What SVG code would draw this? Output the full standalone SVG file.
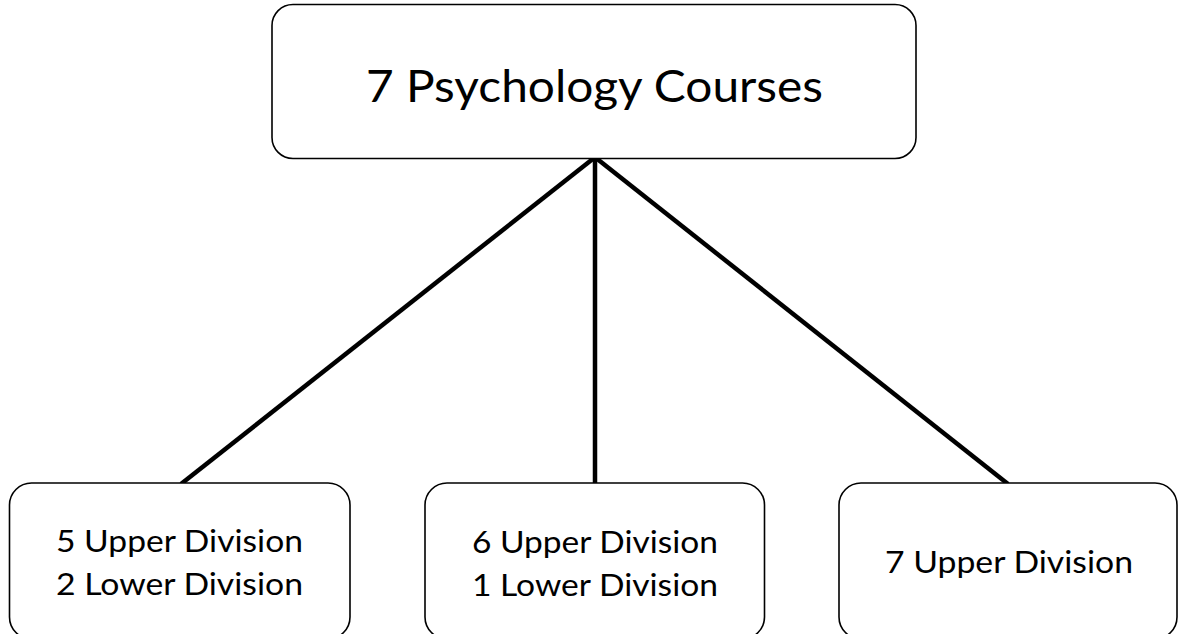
<svg xmlns="http://www.w3.org/2000/svg" width="1178" height="634" viewBox="0 0 1178 634">
<style>
.box{fill:#fff;stroke:#000;stroke-width:1.6}
.lbl{font-family:Lato,"Liberation Sans",sans-serif;fill:#000;text-anchor:middle}
.big{font-size:44.6px}
.sm{font-size:30.7px}
.conn{stroke:#000;stroke-width:4.5;fill:none;stroke-linecap:butt}
</style>
<rect width="1178" height="634" fill="#fff"/>
<g id="connectors">
<line class="conn" x1="594" y1="158" x2="181" y2="484"/>
<line class="conn" x1="595" y1="158" x2="595" y2="484"/>
<line class="conn" x1="596" y1="158" x2="1008" y2="484"/>
</g>
<g id="root">
<rect class="box" x="272" y="4.5" width="644" height="154" rx="21" ry="21"/>
<text class="lbl big" x="594.5" y="102" textLength="457" lengthAdjust="spacingAndGlyphs">7 Psychology Courses</text>
</g>
<g id="left">
<rect class="box" x="9.5" y="483" width="340.5" height="156" rx="22" ry="22"/>
<text class="lbl sm" x="179.5" y="552" textLength="247" lengthAdjust="spacingAndGlyphs">5 Upper Division</text>
<text class="lbl sm" x="179.5" y="595" textLength="247" lengthAdjust="spacingAndGlyphs">2 Lower Division</text>
</g>
<g id="middle">
<rect class="box" x="425" y="483" width="339.5" height="156" rx="22" ry="22"/>
<text class="lbl sm" x="595" y="553" textLength="246" lengthAdjust="spacingAndGlyphs">6 Upper Division</text>
<text class="lbl sm" x="595" y="596" textLength="246" lengthAdjust="spacingAndGlyphs">1 Lower Division</text>
</g>
<g id="right">
<rect class="box" x="839" y="483" width="338" height="156" rx="22" ry="22"/>
<text class="lbl sm" x="1009" y="573" textLength="248" lengthAdjust="spacingAndGlyphs">7 Upper Division</text>
</g>
</svg>
